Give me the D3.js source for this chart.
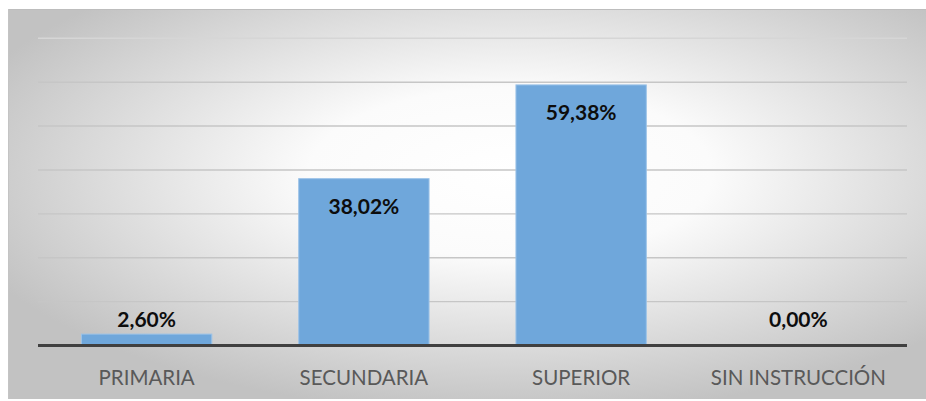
<!DOCTYPE html>
<html>
<head>
<meta charset="utf-8">
<script src="https://cdn.jsdelivr.net/npm/d3@7"></script>
<style>
html,body{margin:0;padding:0;background:#fff;}
svg{display:block;}
</style>
</head>
<body>
<svg id="chart" width="926" height="401"></svg>
<script>
const categories = ["PRIMARIA", "SECUNDARIA", "SUPERIOR", "SIN INSTRUCCIÓN"];
const values = [2.60, 38.02, 59.38, 0.00];
const valueLabels = ["2,60%", "38,02%", "59,38%", "0,00%"];
const gridTicks = [0, 10, 20, 30, 40, 50, 60, 70];

const svg = d3.select("#chart");
const defs = svg.append("defs");
const grad = defs.append("radialGradient").attr("id", "bg")
  .attr("cx", "54%").attr("cy", "42%").attr("r", "62%");
grad.append("stop").attr("offset", "0%").attr("stop-color", "#ffffff");
grad.append("stop").attr("offset", "35%").attr("stop-color", "#fbfbfb");
grad.append("stop").attr("offset", "100%").attr("stop-color", "#c2c2c2");

svg.append("rect").attr("x", 8).attr("y", 9).attr("width", 930).attr("height", 390)
  .attr("fill", "url(#bg)");
svg.append("line").attr("x1", 8).attr("x2", 926).attr("y1", 9.5).attr("y2", 9.5)
  .attr("stroke", "#bdbdbd").attr("stroke-width", 1);
svg.append("line").attr("x1", 8.5).attr("x2", 8.5).attr("y1", 9).attr("y2", 399)
  .attr("stroke", "#c4c4c4").attr("stroke-width", 1);

const plotLeft = 38, plotRight = 907, plotTop = 38.3, plotBottom = 345.5;
const x = d3.scaleBand().domain(categories).range([plotLeft, plotRight]).paddingInner(0.4).paddingOuter(0.2);
const y = d3.scaleLinear().domain([0, 70]).range([plotBottom, plotTop]);

// gridlines
svg.append("g").selectAll("line").data(gridTicks.filter(d => d > 0)).join("line")
  .attr("x1", plotLeft).attr("x2", plotRight)
  .attr("y1", d => y(d)).attr("y2", d => y(d))
  .attr("stroke", d => d === 70 ? "#d6d6d6" : "#c6c6c6").attr("stroke-width", 1.4);

// bars
svg.append("g").selectAll("rect").data(values).join("rect")
  .attr("x", (d, i) => x(categories[i]))
  .attr("width", x.bandwidth())
  .attr("y", d => y(d))
  .attr("height", d => y(0) - y(d))
  .attr("fill", "#6fa7db")
  .attr("stroke", "#9cc3e8").attr("stroke-width", 1);

// baseline
svg.append("line").attr("x1", plotLeft).attr("x2", plotRight)
  .attr("y1", y(0)).attr("y2", y(0))
  .attr("stroke", "#404040").attr("stroke-width", 3);

// axis labels
const xAxis = d3.axisBottom(x).tickSize(0).tickPadding(0);
const ax = svg.append("g").attr("transform", `translate(0,${y(0)})`).call(xAxis);
ax.select(".domain").remove();
ax.selectAll("text")
  .attr("y", 0).attr("dy", 0)
  .attr("transform", "translate(0,39)")
  .attr("font-family", "Lato, 'Open Sans', sans-serif")
  .attr("font-size", 20.5)
  .attr("fill", "#595959");

// value labels
svg.append("g").selectAll("text").data(values).join("text")
  .attr("x", (d, i) => x(categories[i]) + x.bandwidth() / 2)
  .attr("y", d => Math.min(y(d) + 35, y(0) - 19))
  .attr("text-anchor", "middle")
  .attr("font-family", "Lato, 'Open Sans', sans-serif")
  .attr("font-weight", "bold")
  .attr("font-size", 21)
  .attr("fill", "#0d0d0d")
  .text((d, i) => valueLabels[i]);
</script>
</body>
</html>
